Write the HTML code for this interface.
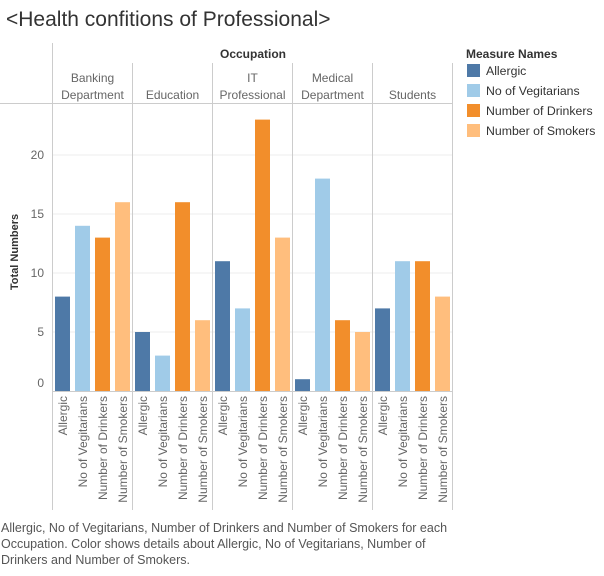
<!DOCTYPE html>
<html><head><meta charset="utf-8"><style>
body{margin:0;width:604px;height:571px;background:#fff;font-family:"Liberation Sans",sans-serif;overflow:hidden}
svg text{font-family:"Liberation Sans",sans-serif}
</style></head><body>
<svg id="c" width="604" height="571">
<text x="6" y="26" font-size="21" fill="#333">&lt;Health confitions of Professional&gt;</text>
<text x="253" y="58" font-size="12" font-weight="bold" fill="#333" text-anchor="middle">Occupation</text>
<text x="14" y="248" font-size="11" font-weight="bold" fill="#333" text-anchor="middle" transform="rotate(-90 18 248)">Total Numbers</text>
<g id="legend">
<text x="466" y="58" font-size="12" font-weight="bold" fill="#333">Measure Names</text>
</g>
<text x="1" y="532" font-size="12.5" fill="#555">Allergic, No of Vegitarians, Number of Drinkers and Number of Smokers for each</text>
<text x="1" y="548" font-size="12.5" fill="#555">Occupation.  Color shows details about Allergic, No of Vegitarians, Number of</text>
<text x="1" y="564" font-size="12.5" fill="#555">Drinkers and Number of Smokers.</text>
</svg>
<script>
const groups=[["Banking","Department"],["Education"],["IT","Professional"],["Medical","Department"],["Students"]];
const measures=["Allergic","No of Vegitarians","Number of Drinkers","Number of Smokers"];
const colors=["#4e79a7","#a0cbe8","#f28e2b","#ffbe7d"];
const allergic=[8,5,11,1,7];
const vegetarians=[14,3,7,18,11];
const drinkers=[13,16,23,6,11];
const smokers=[16,6,13,5,8];
const ticks=[0,5,10,15,20];
const series=[allergic,vegetarians,drinkers,smokers];
const NS="http://www.w3.org/2000/svg",svg=document.getElementById('c');
const x0=52.5,gw=80,y0=391,ppu=11.8;
const y=v=>y0-v*ppu;
function mk(t,a,p){const e=document.createElementNS(NS,t);for(const k in a)e.setAttribute(k,a[k]);(p||svg).appendChild(e);return e;}
ticks.forEach(t=>{if(t>0){const l=mk('line',{x1:x0,x2:x0+gw*groups.length,y1:y(t),y2:y(t),stroke:'#eee'});

}
const tx=mk('text',{x:44,y:(t===0?y(t)-4:y(t)+4),'font-size':12,fill:'#666','text-anchor':'end'});tx.textContent=t;

});
const hl=mk('line',{x1:0,x2:x0+gw*5,y1:103.5,y2:103.5,stroke:'#ccc'});


const bl=mk('line',{x1:x0,x2:x0+gw*5,y1:y0+.5,y2:y0+.5,stroke:'#ccc'});


for(let i=0;i<=groups.length;i++){const l=mk('line',{x1:x0+gw*i,x2:x0+gw*i,y1:i===0?43:63,y2:510,stroke:'#ccc'});

}
groups.forEach((g,gi)=>{const cx=x0+gw*gi+gw/2;
g.forEach((line,li)=>{const t=mk('text',{x:cx,y:(g.length===1?99:82+li*17),'font-size':12,fill:'#666','text-anchor':'middle'});t.textContent=line;

});
series.forEach((s,mi)=>{const bx=x0+gw*gi+2.5+mi*20;
const r=mk('rect',{x:bx,y:y(s[gi]),width:15,height:s[gi]*ppu,fill:colors[mi]});


const tx=bx+12;const t=mk('text',{x:tx,y:396,'font-size':12,fill:'#666','text-anchor':'end',transform:`rotate(-90 ${tx} 396)`});t.textContent=measures[mi];

});});
const lg=document.getElementById('legend');
measures.forEach((m,i)=>{const yy=64+i*20;
const r=mk('rect',{x:467,y:yy,width:13,height:13,fill:colors[i]},lg);


const t=mk('text',{x:486,y:yy+11,'font-size':12.3,fill:'#333'},lg);t.textContent=m;

});
</script>
</body></html>
